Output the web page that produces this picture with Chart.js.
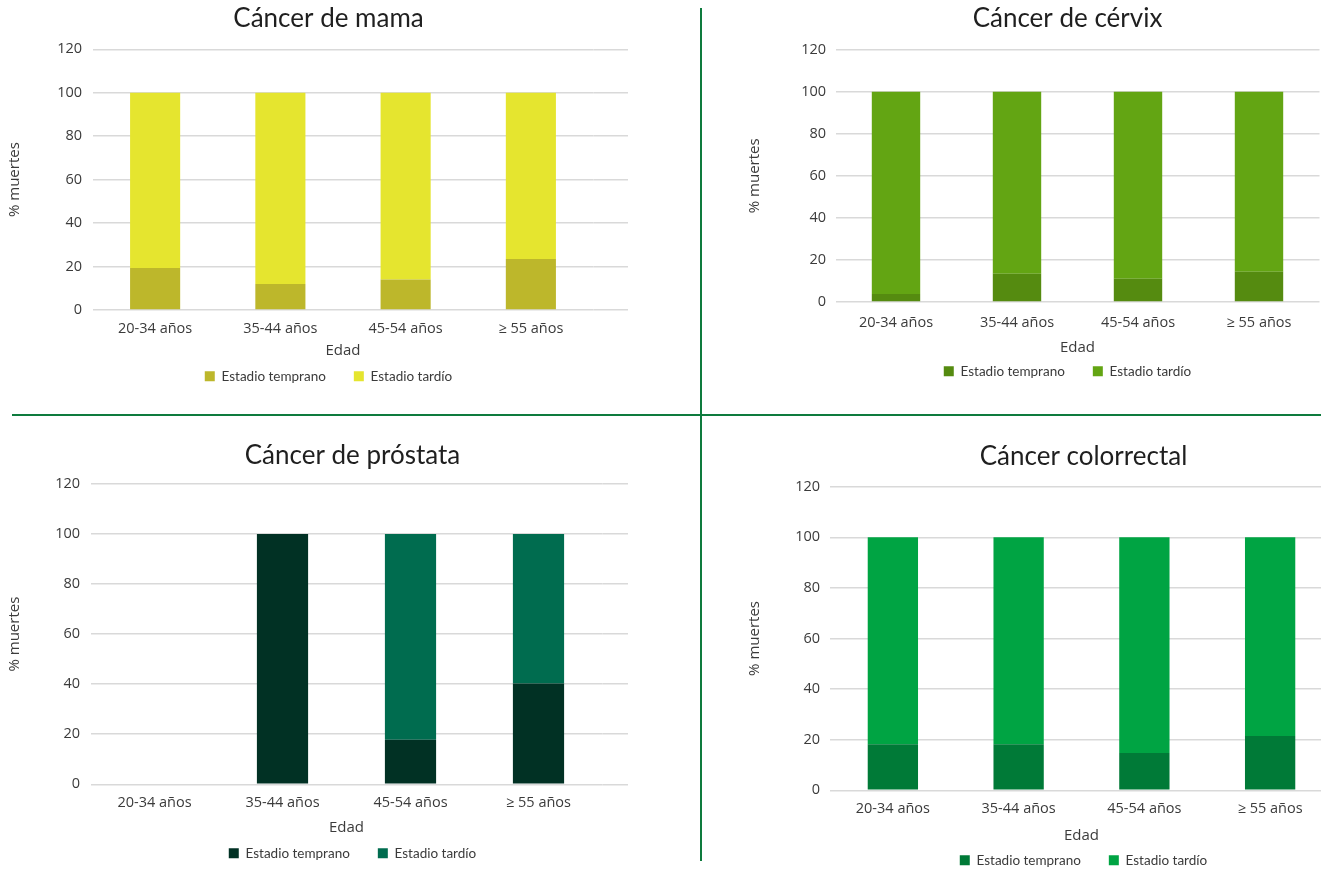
<!DOCTYPE html>
<html lang="es">
<head>
<meta charset="utf-8">
<title>% muertes por estadio y edad</title>
<script src="https://cdn.jsdelivr.net/npm/chart.js@4.4.1/dist/chart.umd.min.js"></script>
<style>
  html, body { margin: 0; padding: 0; background: #fff; overflow: hidden; }
  body { width: 1321px; height: 869px; position: relative; }
  canvas { position: absolute; }
  .vline { position: absolute; left: 700px; top: 8px; width: 2px; height: 853px; background: #0e7b3e; }
  .hline { position: absolute; left: 12px; top: 414px; width: 1309px; height: 2px; background: #0e7b3e; }
</style>
</head>
<body>
<canvas id="c1"></canvas>
<canvas id="c2"></canvas>
<canvas id="c3"></canvas>
<canvas id="c4"></canvas>
<div class="vline"></div>
<div class="hline"></div>
<script>
// Data
const categories = ["20-34 años", "35-44 años", "45-54 años", "≥ 55 años"]
const seriesNames = ["Estadio temprano", "Estadio tardío"]
const yTicks = [0, 20, 40, 60, 80, 100, 120]

const mamaTemprano = [19.3, 12.0, 14.0, 23.4]
const mamaTardio = [80.7, 88.0, 86.0, 76.6]

const cervixTemprano = [3.8, 13.4, 11.0, 14.4]
const cervixTardio = [96.2, 86.6, 89.0, 85.6]

const prostataTemprano = [0, 100, 17.8, 40.3]
const prostataTardio = [0, 0, 82.2, 59.7]

const colorrectalTemprano = [18.2, 18.2, 14.7, 21.4]
const colorrectalTardio = [81.8, 81.8, 85.3, 78.6]

// Styles
const gridColor = "#d9d9d9"
const textColor = "#3b3b3b"
const titleFont = { family: "Lato", size: 26, weight: "normal" }
const tickFont = { family: "Open Sans", size: 14.5 }
const axisTitleFont = { family: "Open Sans", size: 15 }
const legendFont = { family: "Lato", size: 13.5 }
const legendPad = 28

// extends the horizontal grid lines past the last category, as in the original
const gridExtend = {
  id: "gridExtend",
  beforeDatasetsDraw(chart, args, opts) {
    if (!opts.to) return
    const { ctx, chartArea, scales } = chart
    const y = scales.y
    ctx.save()
    ctx.strokeStyle = gridColor
    ctx.lineWidth = 1.5
    y.ticks.forEach((t) => {
      const py = Math.round(y.getPixelForValue(t.value) - 0.75) + 0.75
      ctx.beginPath()
      ctx.moveTo(chartArea.right, py)
      ctx.lineTo(opts.to, py)
      ctx.stroke()
    })
    ctx.restore()
  },
}

// panel geometry in page pixels
const panels = [
  {
    id: "c1", title: "Cáncer de mama", early: mamaTemprano, late: mamaTardio,
    colors: ["#bdb72b", "#e5e52f"],
    left: 0, top: 0, width: 657,
    titleY: 19, plotTop: 49.3, plotBottom: 309.7, plotLeft: 92.5, plotRight: 593.5,
    labelY: 328, xTitleY: 350, legendY: 376, yLabelRight: 82, yTitleX: 15, gridTo: 628,
  },
  {
    id: "c2", title: "Cáncer de cérvix", early: cervixTemprano, late: cervixTardio,
    colors: ["#558b10", "#63a513"],
    left: 720, top: 0, width: 695,
    titleY: 19, plotTop: 49.7, plotBottom: 301.7, plotLeft: 835.5, plotRight: 1319.5,
    labelY: 322, xTitleY: 347, legendY: 371, yLabelRight: 826, yTitleX: 755, gridTo: 0,
  },
  {
    id: "c3", title: "Cáncer de próstata", early: prostataTemprano, late: prostataTardio,
    colors: ["#013124", "#006c4f"],
    left: 0, top: 420, width: 705,
    titleY: 455.5, plotTop: 484, plotBottom: 784, plotLeft: 90.5, plotRight: 602.5,
    labelY: 802, xTitleY: 827, legendY: 853, yLabelRight: 80, yTitleX: 15, gridTo: 628,
  },
  {
    id: "c4", title: "Cáncer colorrectal", early: colorrectalTemprano, late: colorrectalTardio,
    colors: ["#007a37", "#00a443"],
    left: 720, top: 420, width: 727,
    titleY: 457, plotTop: 486.7, plotBottom: 790, plotLeft: 830, plotRight: 1333,
    labelY: 808, xTitleY: 835, legendY: 860, yLabelRight: 820, yTitleX: 755, gridTo: 0,
  },
]

function makeChart(p) {
  const titleLH = titleFont.size * 1.2
  const tickLH = tickFont.size * 1.2
  const axisLH = axisTitleFont.size * 1.2
  const itemH = Math.max(legendFont.size, 10)

  const legendTop = p.legendY - legendPad - itemH / 2
  const height = Math.round(legendTop + itemH + legendPad + 10 - p.top)
  const titleTop = p.titleY - p.top - titleLH / 2
  const titleBottom = p.plotTop - p.top - titleTop - titleLH
  const xAxisH = legendTop - p.plotBottom
  const xTitlePadB = legendTop - p.xTitleY - axisLH / 2
  const yAxisW = p.plotLeft - p.left
  const rightW = p.left + p.width - p.plotRight

  const canvas = document.getElementById(p.id)
  canvas.width = p.width
  canvas.height = height
  canvas.style.left = p.left + "px"
  canvas.style.top = p.top + "px"

  return new Chart(canvas, {
    type: "bar",
    data: {
      labels: categories,
      datasets: [
        { label: seriesNames[0], data: p.early, backgroundColor: p.colors[0] },
        { label: seriesNames[1], data: p.late, backgroundColor: p.colors[1] },
      ],
    },
    options: {
      responsive: false,
      animation: false,
      devicePixelRatio: 1,
      barPercentage: 0.4,
      categoryPercentage: 1,
      layout: { padding: 0 },
      scales: {
        x: {
          stacked: true,
          grid: { display: false },
          border: { display: false },
          ticks: { font: tickFont, color: textColor, padding: p.labelY - p.plotBottom - tickLH / 2 - 7, maxRotation: 0 },
          title: { display: true, text: "Edad", font: axisTitleFont, color: textColor, padding: { top: 0, bottom: xTitlePadB } },
          afterFit: (s) => { s.height = xAxisH },
        },
        y: {
          stacked: true,
          min: yTicks[0],
          max: yTicks[yTicks.length - 1],
          afterBuildTicks: (s) => { s.ticks = yTicks.map((v) => ({ value: v })) },
          grid: { color: gridColor, lineWidth: 1.5, drawTicks: false },
          border: { display: false },
          ticks: { font: tickFont, color: textColor, padding: p.plotLeft - p.yLabelRight },
          title: { display: true, text: "% muertes", font: axisTitleFont, color: textColor, padding: { top: p.yTitleX - p.left - axisLH / 2, bottom: 0 } },
          afterFit: (s) => { s.width = yAxisW },
        },
        yR: {
          position: "right",
          display: true,
          grid: { display: false, drawTicks: false },
          border: { display: false },
          ticks: { display: false },
          afterFit: (s) => { s.width = rightW },
        },
      },
      plugins: {
        title: {
          display: true,
          text: p.title,
          font: titleFont,
          color: "#1f1f1f",
          padding: { top: titleTop, bottom: titleBottom },
        },
        legend: {
          position: "bottom",
          labels: { font: legendFont, color: textColor, boxWidth: 10, boxHeight: 10, padding: legendPad },
        },
        tooltip: { enabled: false },
        gridExtend: { to: p.gridTo ? p.gridTo - p.left : 0 },
      },
    },
    plugins: [gridExtend],
  })
}

panels.forEach(makeChart)
</script>
</body>
</html>
